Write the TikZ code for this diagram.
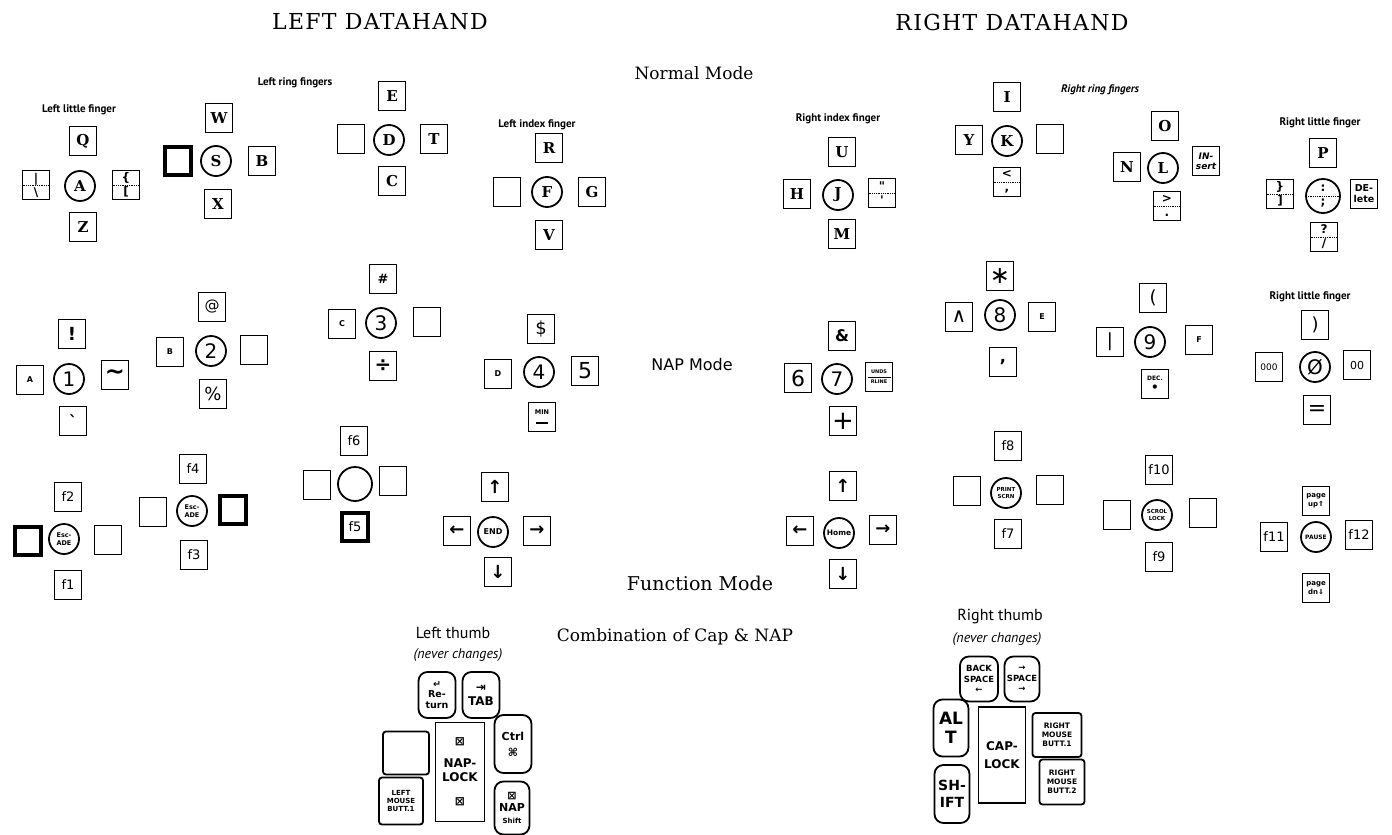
\documentclass[tikz,border=0pt]{standalone}
\usepackage{fontspec}
\setmainfont{DejaVu Serif}
\newfontfamily\sansf{DejaVu Sans}
\newfontfamily\lblf{PT Sans}
\newfontfamily\titlef[LetterSpace=6]{DejaVu Serif}
\newcommand\fsz[1]{\fontsize{#1}{#1}\selectfont}
\newcommand\fszl[2]{\fontsize{#1}{#2}\selectfont}
\begin{document}
\begin{tikzpicture}[x=1pt,y=-1pt,
 kb/.style={draw, line width=1.8pt, minimum width=27pt, minimum height=29pt, inner sep=0pt, align=center, font=\sansf\fsz{14}},
 kbt/.style={kb, line width=4pt, minimum width=26pt, minimum height=28pt},
 kl/.style={kb, font=\rmfamily\bfseries\fsz{15}},
 fc/.style={draw, circle, line width=1.8pt, minimum size=30pt, inner sep=0pt, align=center, font=\sansf\fsz{20}},
 fcl/.style={fc, font=\rmfamily\bfseries\fsz{15}},
 dots/.style={path picture={\draw[densely dotted, line width=0.8pt] (path picture bounding box.west) -- (path picture bounding box.east);}},
 sline/.style={path picture={\draw[line width=0.8pt] ([xshift=2pt]path picture bounding box.west) -- ([xshift=-2pt]path picture bounding box.east);}},
 sp/.style={kb, dots, font=\sansf\bfseries\fszl{12}{14}},
 hx/.style={kb, font=\sansf\bfseries\fsz{8}},
 fk/.style={kb, font=\sansf\fsz{13}},
 ak/.style={kb, font=\sansf\bfseries\fsz{18}},
 sm/.style={fc, font=\sansf\bfseries\fszl{6.5}{7.5}},
 lbl/.style={font=\lblf\bfseries\fsz{11}},
 tlbl/.style={font=\lblf\fsz{16}},
 title/.style={font=\titlef\fsz{22}},
 mode/.style={font=\rmfamily\fsz{17}},
 tk/.style={draw, line width=1.8pt, rounded corners=9pt, inner sep=0pt, align=center, font=\sansf\bfseries\fszl{10}{11}},
 tb/.style={draw, line width=1.8pt, rounded corners=3pt, inner sep=0pt, align=center, font=\sansf\bfseries\fszl{7}{8}}
]
\useasboundingbox (0,0) rectangle (1392,835);

% titles
\node[title] (tl) at (380,22) {LEFT DATAHAND};
\node[title] (tr) at (1012,22) {RIGHT DATAHAND};
\node[mode] (nm) at (694,73) {Normal Mode};
\node[font=\sansf\fsz{16}] (nap) at (692,365) {NAP Mode};
\node[font=\rmfamily\fsz{19}] (fm) at (700,583) {Function Mode};
\node[font=\rmfamily\fsz{17}] (comb) at (675,637) {Combination of Cap \& NAP};

% finger labels
\node[lbl] (lab1) at (79,110) {Left little finger};
\node[lbl] (lab2) at (295,83) {Left ring fingers};
\node[lbl] (lab3) at (537,125) {Left index finger};
\node[lbl] (lab4) at (838,119) {Right index finger};
\node[lbl, font=\lblf\bfseries\itshape\fsz{11}] (lab5) at (1100,90) {Right ring fingers};
\node[lbl] (lab6) at (1320,123) {Right little finger};
\node[lbl] (lab7) at (1310,297) {Right little finger};

% ===== Normal mode =====
\node[kl] (q) at (83,141) {Q};
\node[fcl] (a) at (80,186) {A};
\node[sp] (lbar) at (36,185) {|\\\textbackslash};
\node[sp] (lbrace) at (126,185) {\{\\{[}};
\node[kl] (z) at (83,227) {Z};

\node[kl] (w) at (219,118) {W};
\node[fcl] (s) at (216,161) {S};
\node[kbt] (sl) at (178,161) {};
\node[kl] (b) at (262,161) {B};
\node[kl] (x) at (218,204) {X};

\node[kl] (e) at (392,96) {E};
\node[kb] (dl) at (351,139) {};
\node[fcl] (d) at (389,140) {D};
\node[kl] (t) at (434,139) {T};
\node[kl] (c) at (392,181) {C};

\node[kl] (r) at (549,148) {R};
\node[kb] (fl) at (507,192) {};
\node[fcl] (f) at (547,192) {F};
\node[kl] (g) at (592,192) {G};
\node[kl] (v) at (549,235) {V};

\node[kl] (u) at (842,152) {U};
\node[kl] (h) at (797,194) {H};
\node[fcl] (j) at (838,195) {J};
\node[sp] (quote) at (882,193) {\textquotedbl\\\textquotesingle};
\node[kl] (m) at (842,234) {M};

\node[kl] (i) at (1007,97) {I};
\node[kl] (y) at (969,140) {Y};
\node[fcl] (k) at (1007,141) {K};
\node[kb] (kr) at (1050,139) {};
\node[sp] (comma) at (1007,182) {<\\,};

\node[kl] (o) at (1165,126) {O};
\node[kl] (n) at (1127,167) {N};
\node[fcl] (l) at (1163,168) {L};
\node[kb, font=\sansf\bfseries\itshape\fszl{9}{10}] (ins) at (1206,161) {IN-\\sert};
\node[sp] (period) at (1167,206) {>\\.};

\node[kl] (p) at (1323,153) {P};
\node[sp] (rbrace) at (1280,194) {\}\\{]}};
\node[fc, dots, minimum size=34pt, font=\sansf\bfseries\fszl{12}{14}] (semi) at (1323,196) {:\\;};
\node[kb, font=\sansf\bfseries\fszl{9.5}{11}] (del) at (1364,194) {DE-\\lete};
\node[sp] (slash) at (1324,237) {?\\/};

% ===== NAP mode =====
\node[kb, font=\sansf\bfseries\fsz{18}] (excl) at (72,334) {!};
\node[fc] (one) at (69,379) {1};
\node[hx] (hexa) at (30,380) {A};
\node[kb, font=\sansf\bfseries\fsz{24}] (tilde) at (115,375) {∼};
\node[kb, font=\sansf\bfseries\fsz{16}] (grave) at (73,421) {\textasciigrave};

\node[kb, font=\sansf\fsz{15}] (at) at (212,307) {@};
\node[fc] (two) at (211,351) {2};
\node[hx] (hexb) at (170,352) {B};
\node[kb] (twor) at (254,350) {};
\node[kb, font=\sansf\fsz{18}] (pct) at (213,394) {\%};

\node[kb, font=\sansf\bfseries\fsz{13}] (hash) at (383,279) {\#};
\node[fc] (three) at (381,323) {3};
\node[hx] (hexc) at (342,324) {C};
\node[kb] (threer) at (427,322) {};
\node[kb, font=\sansf\bfseries\fsz{20}] (div) at (383,366) {÷};

\node[kb, font=\sansf\fsz{18}] (dollar) at (541,329) {\$};
\node[fc] (four) at (539,372) {4};
\node[hx] (hexd) at (498,374) {D};
\node[kb, font=\sansf\fsz{22}] (five) at (585,371) {5};
\node[kb, font=\sansf\bfseries\fszl{6.5}{9}] (min) at (542,417) {MIN\\\rule{12pt}{1.5pt}};

\node[kb, font=\sansf\bfseries\fsz{16}] (amp) at (842,336) {\&};
\node[fc] (seven) at (837,379) {7};
\node[kb, font=\sansf\fsz{22}] (six) at (798,378) {6};
\node[kb, sline, font=\sansf\bfseries\fszl{5}{10}] (unds) at (879,377) {UNDS\\RLINE};
\node[kb, font=\sansf\fsz{26}] (plus) at (843,421) {+};

\node[kb, font=\sansf\fsz{24}] (ast) at (1000,276) {∗};
\node[fc] (eight) at (1000,315) {8};
\node[kb, font=\sansf\fsz{20}] (caret) at (959,317) {∧};
\node[hx] (hexe) at (1042,317) {E};
\node[kb, font=\sansf\bfseries\fsz{16}] (ncomma) at (1003,362) {,};

\node[kb, font=\sansf\fsz{18}] (lpar) at (1153,298) {(};
\node[fc] (nine) at (1150,342) {9};
\node[kb, font=\sansf\fsz{18}] (pipe) at (1110,342) {|};
\node[hx] (hexf) at (1199,340) {F};
\node[kb, font=\sansf\bfseries\fszl{6}{11}] (dec) at (1155,384) {DEC.\\{\fsz{12}•}};

\node[kb, font=\sansf\fsz{18}] (rpar) at (1315,325) {)};
\node[fc] (zero) at (1315,367) {Ø};
\node[kb, font=\sansf\fsz{9}] (ttt) at (1269,367) {000};
\node[kb, font=\sansf\fsz{11}] (tt) at (1357,365) {00};
\node[kb, font=\sansf\fsz{22}] (eq) at (1317,410) {=};

% ===== Function mode =====
\node[fk] (f2) at (68,497) {f2};
\node[kbt] (escl) at (28,541) {};
\node[sm] (esc1) at (64,539) {Esc-\\ADE};
\node[kb] (escr) at (108,540) {};
\node[fk] (f1) at (68,585) {f1};

\node[fk] (f4) at (193,469) {f4};
\node[kb] (esc2l) at (153,512) {};
\node[sm] (esc2) at (192,511) {Esc-\\ADE};
\node[kbt] (esc2r) at (233,510) {};
\node[fk] (f3) at (194,555) {f3};

\node[fk] (f6) at (354,441) {f6};
\node[kb] (f6l) at (317,485) {};
\node[fc, minimum size=34pt] (f6c) at (355,484) {};
\node[kb] (f6r) at (393,481) {};
\node[kbt, font=\sansf\fsz{13}] (f5) at (355,527) {f5};

\node[ak] (upl) at (495,487) {↑};
\node[ak] (leftl) at (457,531) {←};
\node[sm, font=\sansf\bfseries\fsz{8}] (endk) at (493,532) {END};
\node[ak] (rightl) at (537,531) {→};
\node[ak] (downl) at (498,572) {↓};

\node[ak] (upr) at (843,486) {↑};
\node[ak] (leftr) at (800,531) {←};
\node[sm, font=\sansf\bfseries\fsz{7.5}] (home) at (839,533) {Home};
\node[ak] (rightr) at (883,530) {→};
\node[ak] (downr) at (843,574) {↓};

\node[fk] (f8) at (1008,446) {f8};
\node[kb] (prl) at (967,491) {};
\node[sm, font=\sansf\bfseries\fszl{5.5}{7}] (prt) at (1006,493) {PRINT\\SCRN};
\node[kb] (prr) at (1050,490) {};
\node[fk] (f7) at (1008,534) {f7};

\node[fk] (f10) at (1159,470) {f10};
\node[kb] (scl) at (1117,515) {};
\node[sm, font=\sansf\bfseries\fszl{5.5}{7}] (scr) at (1157,515) {SCROL\\LOCK};
\node[kb] (scrr) at (1203,513) {};
\node[fk] (f9) at (1159,557) {f9};

\node[kb, font=\sansf\bfseries\fszl{7}{9}] (pgup) at (1316,501) {page\\up⇑};
\node[fk] (f11) at (1274,537) {f11};
\node[sm, font=\sansf\bfseries\fsz{6}] (pause) at (1316,537) {PAUSE};
\node[fk] (f12) at (1359,535) {f12};
\node[kb, font=\sansf\bfseries\fszl{7}{9}] (pgdn) at (1316,588) {page\\dn⇓};

% ===== Thumbs =====
\node[tlbl] (lth) at (453,633) {Left thumb};
\node[font=\lblf\itshape\fsz{14}] (lnc) at (458,655) {(never changes)};
\node[tk, minimum width=37pt, minimum height=46pt, font=\sansf\bfseries\fszl{9.5}{10.5}] (ret) at (437,695) {↵\\Re-\\turn};
\node[tk, minimum width=37pt, minimum height=46pt, font=\sansf\bfseries\fszl{12}{14}] (tab) at (481,695) {⇥\\TAB};
\node[tb, minimum width=46pt, minimum height=43pt] (lempty) at (406,753) {};
\node[tb, minimum width=44pt, minimum height=47pt] (lmouse) at (401,801) {LEFT\\MOUSE\\BUTT.1};
\node[draw, line width=1.8pt, minimum width=49pt, minimum height=99pt, inner sep=0pt, align=center, font=\sansf\bfseries\fszl{12}{14}] (naplock) at (460,772) {⊠\\[8pt]NAP-\\LOCK\\[10pt]⊠};
\node[tk, minimum width=37pt, minimum height=58pt, font=\sansf\bfseries\fszl{11}{16}] (ctrl) at (513,744) {Ctrl\\⌘};
\node[tk, minimum width=35pt, minimum height=53pt, font=\sansf\bfseries\fszl{11}{12}] (napsh) at (512,808) {⊠\\NAP\\{\fsz{7}Shift}};

\node[tlbl] (rth) at (1000,617) {Right thumb};
\node[font=\lblf\itshape\fsz{14}] (rnc) at (997,639) {(never changes)};
\node[tk, minimum width=38pt, minimum height=45pt, font=\sansf\bfseries\fszl{8.5}{10.5}] (bksp) at (979,679) {BACK\\SPACE\\←};
\node[tk, minimum width=35pt, minimum height=45pt, font=\sansf\bfseries\fszl{8.5}{10.5}] (space) at (1022,679) {→\\SPACE\\→};
\node[tk, minimum width=35pt, minimum height=57pt, font=\sansf\bfseries\fszl{17}{19}] (alt) at (951,728) {AL\\T};
\node[draw, line width=1.8pt, minimum width=47pt, minimum height=96pt, inner sep=0pt, align=center, font=\sansf\bfseries\fszl{12}{18}] (caplock) at (1002,755) {CAP-\\LOCK};
\node[tb, minimum width=49pt, minimum height=44pt, font=\sansf\bfseries\fszl{7.5}{9}] (rmouse1) at (1057,735) {RIGHT\\MOUSE\\BUTT.1};
\node[tb, minimum width=45pt, minimum height=45pt, font=\sansf\bfseries\fszl{7.5}{9}] (rmouse2) at (1062,782) {RIGHT\\MOUSE\\BUTT.2};
\node[tk, minimum width=35pt, minimum height=58pt, font=\sansf\bfseries\fszl{14}{17}] (shift) at (952,794) {SH-\\IFT};
\end{tikzpicture}
\end{document}
